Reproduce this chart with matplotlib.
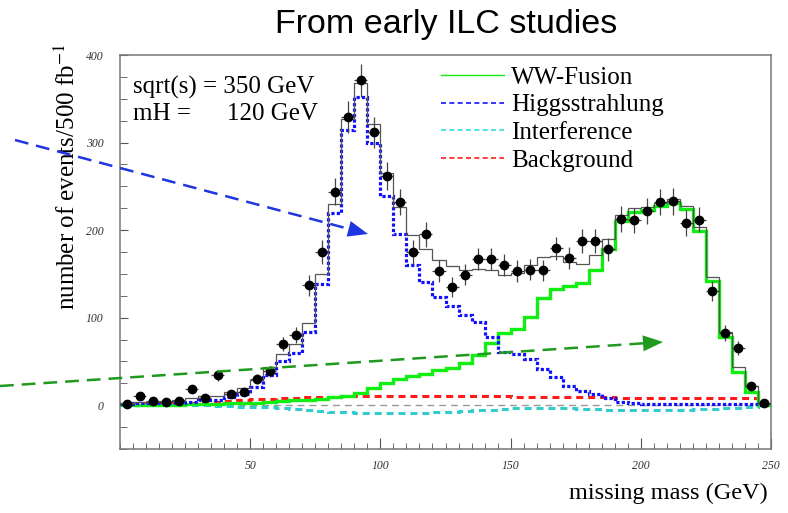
import numpy as np
import matplotlib
matplotlib.use('Agg')
import matplotlib.pyplot as plt
from matplotlib.lines import Line2D
from matplotlib.patches import Polygon

plt.rcParams['font.family'] = 'serif'
plt.rcParams['font.serif'] = ['Liberation Serif', 'DejaVu Serif']
plt.rcParams['mathtext.fontset'] = 'stix'

# 5 GeV bins of missing mass, 0 - 250 GeV
edges = np.arange(0, 255, 5)

# pseudo-data (events / 500 fb^-1)
data = [1, 10, 5, 4, 5, 18, 8, 34, 13, 15,
        30, 39, 70, 80, 137, 175, 244, 329, 371, 312,
        262, 232, 175, 195, 153, 135, 149, 167, 167, 160,
        153, 155, 154, 179, 168, 188, 188, 178, 213, 211,
        222, 232, 233, 208, 212, 130, 82, 65, 22, 2]

# expected contributions per bin
ww_fusion = [0, 0, 0, 0, 0.5, 1, 1, 1.5, 2, 2.5,
             3, 4, 4.5, 5.5, 6.5, 7.5, 9, 11, 14, 20,
             25, 30, 33, 36, 40, 43, 48, 57, 71, 82,
             87, 101, 122, 133, 136, 140, 154, 178, 210, 221,
             223, 228, 231, 224, 199, 142, 78, 38, 15, 0]
higgsstrahlung = [1, 2, 2, 3, 3, 4, 6, 6, 9, 13,
                  21, 35, 50, 60, 84, 139, 219, 314, 352, 300,
                  239, 195, 160, 141, 124, 113, 103, 95, 78, 61,
                  58, 53, 41, 32, 22, 16, 13, 8, 4, 2,
                  1, 1, 1, 1, 1, 1, 1, 1, 1, 0]
interference = [0, 0, 0, 0, 0, 0, 0, -0.5, -1, -1.5,
                -2, -2.5, -3.5, -4.5, -5.5, -6.5, -7.5, -8, -8.5, -9,
                -9, -9, -9, -8.5, -8, -7.5, -7, -6, -5, -4,
                -3.5, -3, -3, -3, -3.5, -4, -4.5, -5, -5.5, -6,
                -6, -6, -5.5, -5, -4.5, -4, -3.5, -3, -2, 0]
background = [1, 1.5, 2, 2, 2.5, 3, 3.5, 4, 5, 6,
              7, 7.5, 8, 8.5, 9, 9.5, 9.5, 10, 10, 10,
              10, 10, 10, 10, 10, 10, 10, 10, 10, 10,
              9.5, 9.5, 9.5, 9, 9, 9, 9, 9, 8.5, 8.5,
              8.5, 8.5, 8.5, 8, 8, 8, 8, 8, 8, 1]

total = (np.array(ww_fusion) + np.array(higgsstrahlung)
         + np.array(interference) + np.array(background))
centers = (edges[:-1] + edges[1:]) / 2
half_bin = np.diff(edges) / 2

W, H = 788, 513
fig = plt.figure(figsize=(W / 100, H / 100), dpi=100)
ax = fig.add_axes([120 / W, 1 - 449 / H, 651 / W, 394 / H])

ax.axhline(0, color='#999999', lw=1, ls=(0, (5, 3.5)), zorder=1)
ax.stairs(interference, edges, baseline=None, color='#33cccc', lw=2.2,
          ls=(0, (2.3, 1.6)), zorder=2)
ax.stairs(background, edges, baseline=None, color='#ff1a1a', lw=2.2,
          ls=(0, (2.3, 1.6)), zorder=2)
ax.stairs(ww_fusion, edges, baseline=None, color='#11ee11', lw=2.4, zorder=3)
ax.stairs(higgsstrahlung, edges, baseline=None, color='#1010ff', lw=2.3,
          ls=(0, (1, 0.7)), zorder=4)
ax.stairs(total, edges, baseline=None, color='#555555', lw=0.9, zorder=5)
ax.errorbar(centers, data, xerr=half_bin, yerr=np.sqrt(data), fmt='o',
            ms=6, mfc='black', mec='black', ecolor='#444444',
            elinewidth=0.9, capsize=0, zorder=6)

ax.set_xlim(0, 250)
ax.set_ylim(-50, 400)
ax.set_xticks(np.arange(50, 251, 50))
ax.set_xticks(np.arange(0, 251, 5), minor=True)
ax.set_yticks(np.arange(0, 401, 100))
ax.set_yticks(np.arange(-50, 401, 25), minor=True)
ax.tick_params(which='both', direction='in', top=False, right=False,
               color='#555555', labelcolor='#333333', labelsize=8.5)
ax.tick_params(axis='x', which='major', length=8, pad=8)
ax.tick_params(axis='x', which='minor', length=4)
ax.tick_params(axis='y', which='major', length=6, pad=12)
ax.tick_params(axis='y', which='minor', length=5)
for lab in ax.get_xticklabels() + ax.get_yticklabels():
    lab.set_fontstyle('italic')
for sp in ax.spines.values():
    sp.set_color('#777777')
    sp.set_linewidth(1.1)

ax.set_ylabel('number of events/500 fb$^{-1}$', fontsize=18)
ax.yaxis.set_label_coords(-0.062, 0.69)
ax.set_xlabel('missing mass (GeV)', fontsize=17.5, ha='right')
ax.xaxis.set_label_coords(0.995, -0.085)

ax.text(0.02, 0.901, 'sqrt(s) = 350 GeV', transform=ax.transAxes,
        fontsize=18, va='baseline')
ax.text(0.02, 0.835, 'mH =', transform=ax.transAxes,
        fontsize=18, va='baseline')
ax.text(0.304, 0.835, '120 GeV', transform=ax.transAxes,
        fontsize=18, va='baseline', ha='right')

handles = [Line2D([], [], color='#11ee11', lw=1),
           Line2D([], [], color='#1010ff', lw=1.2, ls=(0, (3, 2))),
           Line2D([], [], color='#33dddd', lw=1.2, ls=(0, (3, 2))),
           Line2D([], [], color='#ff1a1a', lw=1.2, ls=(0, (3, 2)))]
labels = ['WW-Fusion', 'Higgsstrahlung', 'Interference', 'Background']
ax.legend(handles, labels, loc='upper left', bbox_to_anchor=(441 / W, 1 - 66 / H),
          bbox_transform=fig.transFigure, frameon=False, fontsize=18,
          handlelength=2.5, handletextpad=0.3, labelspacing=0.21,
          borderpad=0, borderaxespad=0)

fig.text(446 / W, 1 - 24 / H, 'From early ILC studies', ha='center',
         va='center', family='Liberation Sans', fontsize=24.5)


# dashed pointer arrows across the figure (pixel positions from top-left)
def pointer(x0, y0, x1, y1, color, head=20, half=8):
    d = np.array([x1 - x0, y1 - y0], float)
    u = d / np.hypot(*d)
    n = np.array([-u[1], u[0]])
    base = np.array([x1, y1]) - head * u
    to_fig = lambda p: (p[0] / W, 1 - p[1] / H)
    fig.add_artist(Line2D([x0 / W, base[0] / W], [1 - y0 / H, 1 - base[1] / H],
                          transform=fig.transFigure, color=color, lw=1.8,
                          ls=(0, (5.5, 3.2))))
    tri = [to_fig((x1, y1)), to_fig(base + half * n), to_fig(base - half * n)]
    fig.add_artist(Polygon(tri, closed=True, transform=fig.transFigure,
                           color=color, lw=0))


pointer(15, 140, 368, 234, '#1f35e0')
pointer(0, 386, 663, 342, '#1e9a1e')

fig.savefig('out.png', dpi=100)
